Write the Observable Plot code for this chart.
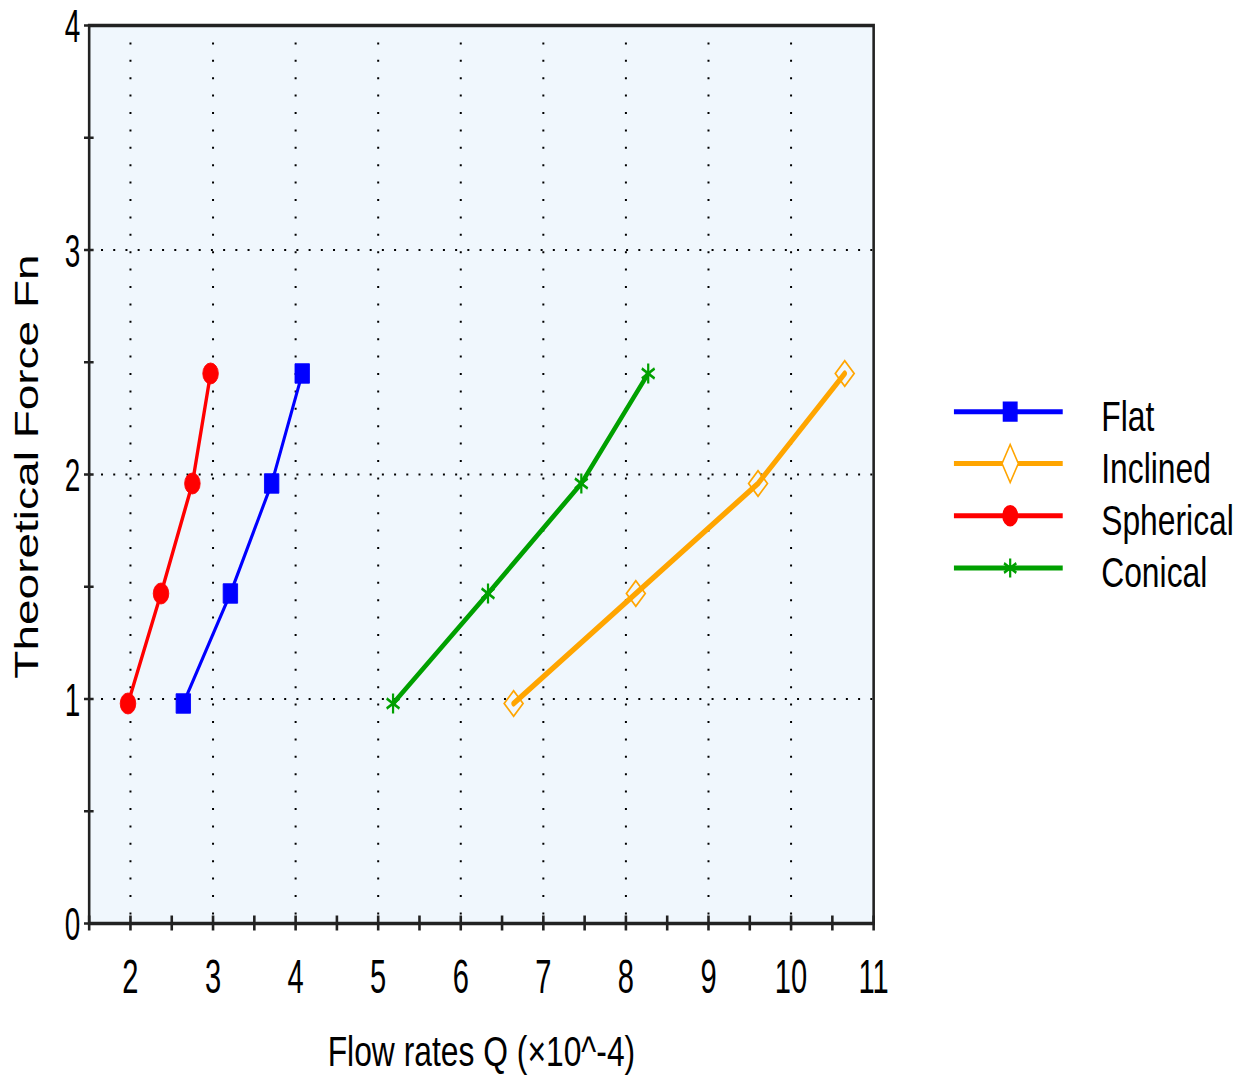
<!DOCTYPE html>
<html>
<head>
<meta charset="utf-8">
<script src="https://cdn.jsdelivr.net/npm/d3@7"></script>
<script src="https://cdn.jsdelivr.net/npm/@observablehq/plot@0.6"></script>
<style>
  html, body { margin: 0; padding: 0; background: #fff; }
  #chart { position: relative; width: 1247px; height: 1079px; overflow: hidden; }
</style>
</head>
<body>
<div id="chart"></div>
<script>
// ---- data ----
const seriesNames = ["Flat", "Inclined", "Spherical", "Conical"];
const seriesColors = ["#0000ff", "#ffa500", "#ff0000", "#00a000"];
const forceFn = [0.98, 1.47, 1.96, 2.45];
const qFlat = [2.64, 3.21, 3.71, 4.08];
const qInclined = [6.64, 8.12, 9.6, 10.65];
const qSpherical = [1.97, 2.37, 2.75, 2.97];
const qConical = [5.18, 6.33, 7.46, 8.27];
const xTickLabels = [2, 3, 4, 5, 6, 7, 8, 9, 10, 11];
const yTickLabels = [0, 1, 2, 3, 4];
const xTickMarks = [1.5, 2, 2.5, 3, 3.5, 4, 4.5, 5, 5.5, 6, 6.5, 7, 7.5, 8, 8.5, 9, 9.5, 10, 10.5, 11];
const yTickMarks = [0, 0.5, 1, 1.5, 2, 2.5, 3, 3.5, 4];
const xGridLines = [2, 3, 4, 5, 6, 7, 8, 9, 10];
const yGridLines = [1, 2, 3];
const xTitle = "Flow rates Q (×10^-4)";
const yTitle = "Theoretical Force Fn";

// ---- styling ----
const qBySeries = [qFlat, qInclined, qSpherical, qConical];
const symbols = ["square", "diamond2", "circle", "asterisk"];
const d3Symbols = [d3.symbolSquare, d3.symbolDiamond, d3.symbolCircle, d3.symbolAsterisk];
const hollow = [false, true, false, true];
const dotR = [11, 11.5, 10.5, 9.5];
const dotSW = [1, 2, 1, 3];
const lineW = [4, 6, 4.5, 5.5];

const rows = [];
seriesNames.forEach((s, i) => qBySeries[i].forEach((q, j) => rows.push({series: s, q, f: forceFn[j]})));

const K = 0.74;                 // horizontal squeeze of the reference
const W = Math.round(1247 / K); // virtual drawing width
const H = 1079;
const regular = '"Liberation Sans", Arial, sans-serif';

const seriesMarks = [];
seriesNames.forEach((s, i) => {
  const d = rows.filter(r => r.series === s);
  seriesMarks.push(Plot.line(d, {x: "q", y: "f", stroke: seriesColors[i], strokeWidth: lineW[i]}));
  seriesMarks.push(Plot.dot(d, {
    x: "q", y: "f", symbol: () => symbols[i], r: dotR[i],
    fill: hollow[i] ? "none" : seriesColors[i],
    stroke: seriesColors[i],
    strokeWidth: dotSW[i]
  }));
});

const svg = Plot.plot({
  width: W,
  height: H,
  marginLeft: 120,
  marginRight: W - 1180,
  marginTop: 25,
  marginBottom: 156,
  style: {background: "transparent", fontFamily: regular, overflow: "visible"},
  x: {domain: [1.5, 11], label: null},
  y: {domain: [0, 4], label: null},
  symbol: {type: "identity"},
  marks: [
    Plot.frame({fill: "#f0f7fd"}),
    Plot.gridX(xGridLines, {stroke: "#000", strokeOpacity: 1, strokeWidth: 2.7, strokeDasharray: "2,15.4"}),
    Plot.gridY(yGridLines, {stroke: "#000", strokeOpacity: 1, strokeWidth: 2, strokeDasharray: "2.7,13.8"}),
    ...seriesMarks,
    Plot.frame({stroke: "#222", strokeWidth: 3.5}),
    Plot.axisX(xTickMarks, {tickSize: 15, dy: -7.5, fill: "none", stroke: "#222", strokeWidth: 3.5, label: null}),
    Plot.axisY(yTickMarks, {tickSize: 13, dx: 6.5, fill: "none", stroke: "#222", strokeWidth: 2.5, label: null}),
    Plot.axisX(xTickLabels, {tickSize: 0, tickPadding: 35, fontSize: 48, fill: "#000", label: null, tickFormat: d => String(d)}),
    Plot.axisY(yTickLabels, {tickSize: 0, tickPadding: 12, dy: 2, fontSize: 46, fill: "#000", label: null, tickFormat: d => String(d)}),
    Plot.text([xTitle], {frameAnchor: "bottom", lineAnchor: "top", textAnchor: "middle", dy: 112, fontSize: 43, fill: "#000"}),
    Plot.text([yTitle], {frameAnchor: "left", textAnchor: "middle", lineAnchor: "middle", rotate: -90, dx: -83.5, dy: -8, fontSize: 46, fill: "#000"})
  ]
});

// narrow tick-label glyphs (the reference uses a condensed face)
d3.select(svg).selectAll('g[aria-label="x-axis tick label"] text, g[aria-label="y-axis tick label"] text')
  .attr("transform", function () { return (this.getAttribute("transform") || "") + " scale(0.82,1)"; });

// ---- legend in the right margin ----
const leg = d3.select(svg).append("g").attr("class", "legend");
const legY = [411.7, 463.5, 515.7, 568];
seriesNames.forEach((s, i) => {
  const g = leg.append("g").attr("transform", `translate(0,${legY[i]})`);
  g.append("line").attr("x1", 1289).attr("x2", 1436).attr("y1", 0).attr("y2", 0)
    .attr("stroke", seriesColors[i]).attr("stroke-width", 5);
  const size = [330, 420, 300, 260][i];
  g.append("path").attr("transform", "translate(1365,0)")
    .attr("d", d3.symbol(d3Symbols[i], size)())
    .attr("fill", hollow[i] ? (i === 1 ? "#fff" : "none") : seriesColors[i])
    .attr("stroke", seriesColors[i]).attr("stroke-width", i === 3 ? 3 : 2);
  g.append("text").attr("x", 1488).attr("y", 19).attr("font-size", 43)
    .attr("text-anchor", "start")
    .attr("font-family", regular).attr("fill", "#000").text(s);
});

svg.setAttribute("width", 1247);
svg.setAttribute("height", H);
svg.setAttribute("viewBox", `0 0 ${W} ${H}`);
svg.setAttribute("preserveAspectRatio", "none");
svg.style.width = "1247px";
svg.style.height = H + "px";
svg.style.maxWidth = "none";
document.getElementById("chart").appendChild(svg);
</script>
</body>
</html>
